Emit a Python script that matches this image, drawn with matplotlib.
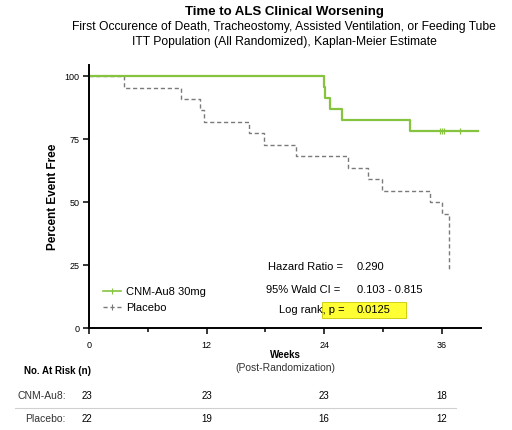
import matplotlib.pyplot as plt
import matplotlib.transforms as mtransforms
from matplotlib.patches import Rectangle
from matplotlib.lines import Line2D

plt.rcParams['font.family'] = ['Liberation Sans', 'DejaVu Sans']

# Kaplan-Meier step data (weeks, percent event free)
cnm_weeks = [0, 24.0, 24.1, 24.6, 25.8, 32.8, 39.7]
cnm_pct = [100, 95.65, 91.3, 86.96, 82.6, 78.26, 78.26]
cnm_censor = [35.8, 36.0, 36.2, 37.9]

pbo_weeks = [0, 3.6, 9.4, 11.3, 11.7, 16.3, 17.9, 21.1, 26.4, 28.5, 29.9, 34.8, 36.0, 36.7]
pbo_pct = [100, 95.45, 90.9, 86.4, 81.8, 77.3, 72.7, 68.2, 63.6, 59.1, 54.5, 50.0, 45.45, 22.7]

risk_weeks = [0, 12, 24, 36]
risk_cnm = [23, 23, 23, 18]
risk_pbo = [22, 19, 16, 12]

green = '#86c440'
grey = '#7a7a7a'

W, H = 512, 430
fig = plt.figure(figsize=(W / 100, H / 100), dpi=100)

def px(x, y):
    return x / W, 1 - y / H

ax = fig.add_axes([89 / W, 1 - 328 / H, 392 / W, 263 / H])
ax.set_xlim(0, 40)
ax.set_ylim(0, 104.4)

ax.step(pbo_weeks, pbo_pct, where='post', color=grey, lw=1.0, dashes=(3, 2))
ax.step(cnm_weeks, cnm_pct, where='post', color=green, lw=1.6)
ax.plot(cnm_censor, [78.26] * len(cnm_censor), ls='none', marker='|', ms=4,
        mew=0.9, color=green)

for s in ['top', 'right']:
    ax.spines[s].set_visible(False)
for s in ['left', 'bottom']:
    ax.spines[s].set_linewidth(1.4)
ax.set_xticks(risk_weeks)
ax.set_xticks([6, 18, 30], minor=True)
ax.set_yticks([0, 25, 50, 75, 100])
ax.tick_params(axis='both', which='major', labelsize=6.5, length=4, width=1.1, pad=3)
ax.tick_params(axis='x', which='major', pad=5)
ax.tick_params(axis='x', which='minor', length=3, width=1.1)
ax.set_ylabel('Percent Event Free', fontsize=8.5, fontweight='bold', labelpad=4)

leg_handles = [
    Line2D([], [], color=green, lw=1.2, marker='|', ms=4, mew=0.8),
    Line2D([], [], color=grey, lw=1.0, dashes=(3, 2), marker='|', ms=4, mew=0.8),
]
ax.legend(leg_handles, ['CNM-Au8 30mg', 'Placebo'], loc='lower left',
          bbox_to_anchor=(0.01, 0.02), frameon=False, fontsize=8,
          handlelength=1.6, numpoints=1, labelspacing=0.5, handletextpad=0.5)

# stats block
fs = 8
fig.text(*px(268, 267), 'Hazard Ratio =', fontsize=fs, va='center')
fig.text(*px(357, 267), '0.290', fontsize=fs, va='center')
fig.text(*px(266, 290), '95% Wald CI =', fontsize=fs, va='center')
fig.text(*px(357, 290), '0.103 - 0.815', fontsize=fs, va='center')
fig.add_artist(Rectangle(px(322, 318), 84 / W, 16 / H, transform=fig.transFigure,
                         facecolor='#ffff33', edgecolor='#c8c800', lw=0.6))
fig.text(*px(279, 310), 'Log rank, p =', fontsize=fs, va='center')
fig.text(*px(357, 310), '0.0125', fontsize=fs, va='center')

# titles
fig.text(*px(284, 12), 'Time to ALS Clinical Worsening', fontsize=9.5,
         fontweight='bold', ha='center', va='center')
fig.text(*px(284, 27), 'First Occurence of Death, Tracheostomy, Assisted Ventilation, or Feeding Tube',
         fontsize=8.7, ha='center', va='center')
fig.text(*px(284, 42), 'ITT Population (All Randomized), Kaplan-Meier Estimate',
         fontsize=8.7, ha='center', va='center')

# x label
fig.text(*px(285, 355), 'Weeks', fontsize=7, fontweight='bold', ha='center', va='center')
fig.text(*px(285, 368), '(Post-Randomization)', fontsize=7.5, ha='center', va='center', color='#333333')

# number at risk table
fig.text(*px(57, 371), 'No. At Risk (n)', fontsize=7, fontweight='bold', ha='center', va='center')
fig.text(*px(66, 396), 'CNM-Au8:', fontsize=7.5, ha='right', va='center', color='#333333')
fig.text(*px(66, 419), 'Placebo:', fontsize=7.5, ha='right', va='center', color='#333333')
tr = mtransforms.blended_transform_factory(ax.transData, fig.transFigure)
for wk, a, b in zip(risk_weeks, risk_cnm, risk_pbo):
    xx = wk if wk > 0 else -0.2
    fig.text(xx, 1 - 396 / H, str(a), transform=tr, fontsize=7, ha='center', va='center')
    fig.text(xx, 1 - 419 / H, str(b), transform=tr, fontsize=7, ha='center', va='center')
fig.add_artist(Line2D([15 / W, 456 / W], [1 - 408 / H] * 2, transform=fig.transFigure,
                      color='#d0d0d0', lw=0.8))

fig.savefig('out.png', dpi=100)
